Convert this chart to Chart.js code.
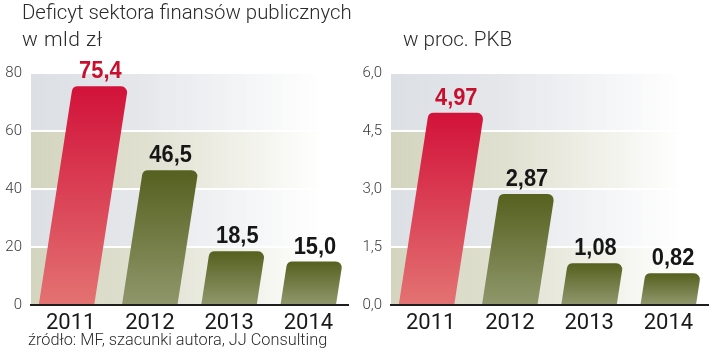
<!DOCTYPE html>
<html>
<head>
<meta charset="utf-8">
<script src="https://cdn.jsdelivr.net/npm/chart.js@4.4.1/dist/chart.umd.min.js"></script>
<style>
  html, body { margin: 0; padding: 0; background: #fff; }
  body { width: 720px; height: 356px; position: relative; overflow: hidden; font-family: Roboto, "Liberation Sans", sans-serif; }
  .wrap { position: absolute; top: 0; width: 360px; height: 356px; }
  .txt { position: absolute; white-space: nowrap; color: #2a2a2a; font-weight: 300; transform-origin: left top; }
</style>
</head>
<body>
<div class="wrap" style="left:0"><canvas id="c1" width="360" height="356"></canvas></div>
<div class="wrap" style="left:360px"><canvas id="c2" width="360" height="356"></canvas></div>
<div class="txt" style="left:22px; top:0px; font-size:21px; transform:scaleX(0.97)">Deficyt sektora finansów publicznych</div>
<div class="txt" style="left:22px; top:27px; font-size:21px; transform:scaleX(1.0); letter-spacing:0.5px">w mld zł</div>
<div class="txt" style="left:403px; top:27px; font-size:21px; transform:scaleX(0.98)">w proc. PKB</div>
<div class="txt" style="left:28px; top:330px; font-size:16px; transform:scaleX(1.02)">źródło: MF, szacunki autora, JJ Consulting</div>
<script>
// ---- data ----
const years = ['2011', '2012', '2013', '2014'];
const deficitBn = [75.4, 46.5, 18.5, 15.0];
const deficitPct = [4.97, 2.87, 1.08, 0.82];
const bnTicks = [0, 20, 40, 60, 80];
const pctTicks = [0, 1.5, 3.0, 4.5, 6.0];
const bnDecimals = 1;
const pctDecimals = 2;

const fmt = (v, d) => v.toFixed(d).replace('.', ',');

// background bands
const bandsPlugin = {
  id: 'bands',
  beforeDraw(chart) {
    const { ctx, chartArea: a, scales: { y } } = chart;
    const ticks = chart.options.plugins.bands.ticks;
    ctx.save();
    for (let i = 0; i < ticks.length - 1; i++) {
      const yb = y.getPixelForValue(ticks[i]);
      const yt = y.getPixelForValue(ticks[i + 1]);
      const col = i % 2 === 0 ? [212, 213, 191] : [220, 223, 228];
      const g = ctx.createLinearGradient(a.left, 0, a.right, 0);
      g.addColorStop(0, `rgb(${col})`);
      g.addColorStop(0.35, `rgba(${col},0.75)`);
      g.addColorStop(0.92, `rgba(${col},0)`);
      ctx.fillStyle = g;
      ctx.fillRect(a.left, yt, a.right - a.left, yb - yt);
    }
    ctx.restore();
  }
};

// skewed bars with rounded tops + value labels
const skewBarPlugin = {
  id: 'skewBars',
  beforeDatasetDraw(chart, args) {
    const { ctx } = chart;
    const meta = args.meta;
    const ds = chart.data.datasets[args.index];
    const opts = chart.options.plugins.skewBars;
    ctx.save();
    meta.data.forEach((el, i) => {
      const { x, y, base, width } = el.getProps(['x', 'y', 'base', 'width'], true);
      const h = base - y;
      const s = opts.skew * h;
      const bl = x - width / 2 + (opts.offsets[i] || 0);
      const br = bl + width;
      const tl = bl + s, tr = br + s;
      const r = 6;
      const hi = i === 0;
      const g = ctx.createLinearGradient(0, y, 0, base);
      if (hi) { g.addColorStop(0, '#d2123a'); g.addColorStop(1, '#e37272'); }
      else { g.addColorStop(0, '#56601f'); g.addColorStop(1, '#8f976b'); }
      ctx.fillStyle = g;
      ctx.beginPath();
      ctx.moveTo(bl, base);
      ctx.arcTo(tl, y, tr, y, r);
      ctx.arcTo(tr, y, br, base, r);
      ctx.lineTo(br, base);
      ctx.closePath();
      ctx.fill();
      // value label
      ctx.fillStyle = hi ? '#c8102e' : '#161616';
      ctx.font = 'bold 23px "Liberation Sans", Roboto, sans-serif';
      ctx.textAlign = 'center';
      ctx.textBaseline = 'alphabetic';
      ctx.save();
      const cx = (tl + tr) / 2;
      ctx.translate(cx, y - 8);
      ctx.scale(0.95, 1);
      ctx.fillText(fmt(ds.data[i], opts.decimals), 0, 0);
      ctx.restore();
    });
    ctx.restore();
    return false;
  }
};

function makeChart(id, values, ticks, decimals, tickDec) {
  const max = ticks[ticks.length - 1];
  return new Chart(document.getElementById(id), {
    type: 'bar',
    data: { labels: years, datasets: [{ data: values, backgroundColor: 'transparent', barPercentage: 0.7, categoryPercentage: 1 }] },
    options: {
      responsive: false,
      animation: false,
      layout: { padding: { left: 0, right: 12, top: 73, bottom: 0 } },
      plugins: {
        legend: { display: false },
        tooltip: { enabled: false },
        bands: { ticks },
        skewBars: { skew: 0.155, decimals, offsets: [-4, 0, 0, 0] }
      },
      scales: {
        x: {
          grid: { display: false, drawTicks: false },
          border: { display: true, color: '#1e1e1e', width: 2 },
          ticks: { color: '#1a1a1a', padding: 5, font: { family: 'Roboto, "Liberation Sans", sans-serif', size: 22 } },
          afterFit(s) { s.height = 51; }
        },
        y: {
          min: 0, max,
          afterBuildTicks(s) { s.ticks = ticks.map(v => ({ value: v })); },
          grid: { color: '#ffffff', lineWidth: 2, drawTicks: false },
          border: { display: false },
          ticks: {
            color: '#3a3a3a', padding: 9,
            font: { family: 'Roboto, "Liberation Sans", sans-serif', size: 15, weight: '300' },
            callback: v => tickDec ? fmt(v, tickDec) : String(v)
          },
          afterFit(s) { s.width = 31; }
        }
      }
    },
    plugins: [bandsPlugin, skewBarPlugin]
  });
}

makeChart('c1', deficitBn, bnTicks, bnDecimals, 0);
makeChart('c2', deficitPct, pctTicks, pctDecimals, 1);
</script>
</body>
</html>
